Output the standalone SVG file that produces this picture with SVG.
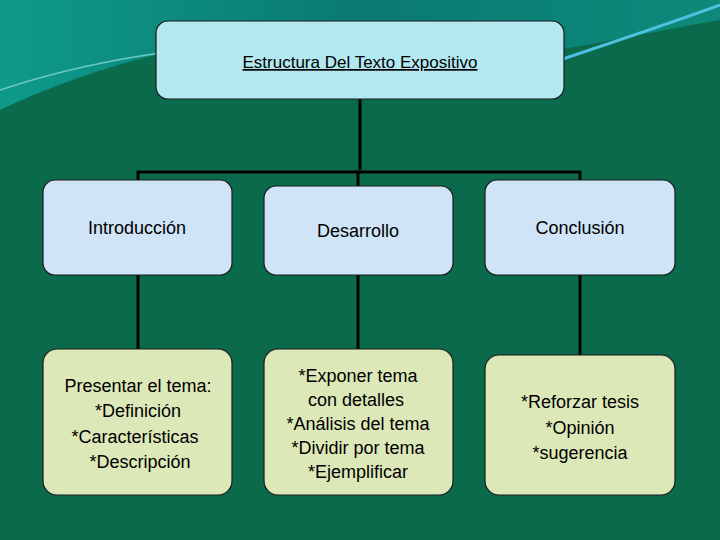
<svg xmlns="http://www.w3.org/2000/svg" width="720" height="540" viewBox="0 0 720 540">
<defs>
<style>
.t{font-family:"Liberation Sans",Arial,sans-serif;font-size:18px;fill:#000;text-anchor:middle}
.top{fill:#b3e8f0;stroke:#1a1a1a;stroke-width:1.2}
.mid{fill:#cfe4f7;stroke:#1a1a1a;stroke-width:1.2}
.bot{fill:#dde8b8;stroke:#1a1a1a;stroke-width:1.2}
.c{stroke:#000;stroke-width:3;fill:none}
</style>
<linearGradient id="bg" x1="0" y1="0" x2="1" y2="0">
<stop offset="0" stop-color="#0e9a8a"/><stop offset="0.5" stop-color="#0a7a72"/><stop offset="1" stop-color="#0d8a7a"/>
</linearGradient>
</defs>
<rect width="720" height="540" fill="#0b6a4c"/>
<path d="M0,0 H720 V20 C600,40 500,70 430,50 C300,20 150,40 0,110 Z" fill="url(#bg)"/>
<path d="M0,90 C120,50 250,40 330,42" stroke="#6fc8c0" stroke-width="1.5" fill="none"/>
<path d="M560,60 C620,40 680,20 720,5" stroke="#4fc0e0" stroke-width="3" fill="none"/>
<g id="connectors">
<path class="c" d="M360,98 V170 M138,180 V172 H580 V180 M358,172 V186 M138,275 V350 M358,275 V350 M580,275 V355"/>
</g>
<g id="title"><rect class="top" x="156" y="21" width="408" height="78" rx="12"/>
<text class="t" x="360" y="68" style="font-size:17px" text-decoration="underline">Estructura Del Texto Expositivo</text></g>
<g id="intro"><rect class="mid" x="43" y="180" width="189" height="95" rx="12"/><text class="t" x="137" y="234">Introducción</text></g>
<g id="desarrollo"><rect class="mid" x="264" y="186" width="189" height="89" rx="12"/><text class="t" x="358" y="237">Desarrollo</text></g>
<g id="conclusion"><rect class="mid" x="485" y="180" width="190" height="95" rx="12"/><text class="t" x="580" y="234">Conclusión</text></g>
<g id="intro-d"><rect class="bot" x="43" y="349" width="189" height="146" rx="14"/>
<text class="t" x="138" y="392">Presentar el tema:</text><text class="t" x="138" y="417">*Definición</text><text class="t" x="135" y="443">*Características</text><text class="t" x="140" y="468">*Descripción</text></g>
<g id="des-d"><rect class="bot" x="264" y="349" width="189" height="146" rx="14"/>
<text class="t" x="358" y="382">*Exponer tema</text><text class="t" x="356" y="406">con detalles</text><text class="t" x="358" y="430">*Análisis del tema</text><text class="t" x="358" y="454">*Dividir por tema</text><text class="t" x="358" y="478">*Ejemplificar</text></g>
<g id="con-d"><rect class="bot" x="485" y="355" width="190" height="140" rx="14"/>
<text class="t" x="580" y="408">*Reforzar tesis</text><text class="t" x="580" y="434">*Opinión</text><text class="t" x="580" y="459">*sugerencia</text></g>
</svg>
